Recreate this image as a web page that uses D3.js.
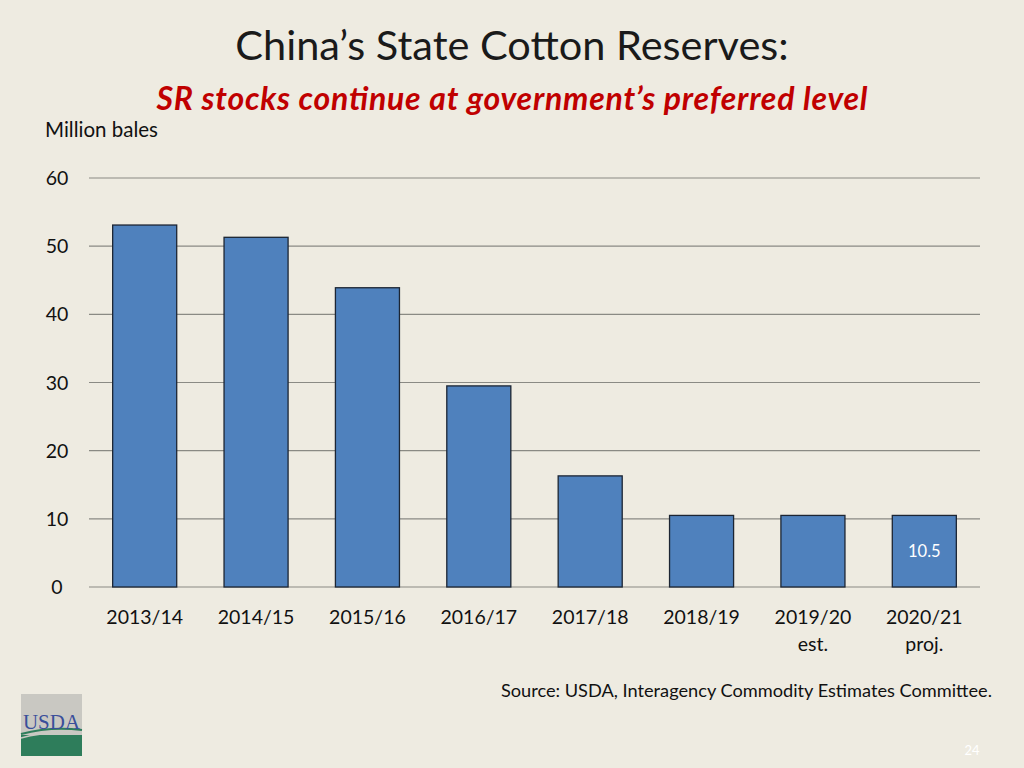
<!DOCTYPE html>
<html><head><meta charset="utf-8">
<script src="https://cdn.jsdelivr.net/npm/d3@7"></script>
<style>body{margin:0;background:#EEEBE1;}svg{display:block;}</style>
</head><body>
<script>
const categories = ["2013/14","2014/15","2015/16","2016/17","2017/18","2018/19","2019/20","2020/21"];
const subLabels = ["","","","","","","est.","proj."];
const values = [53.1, 51.3, 43.9, 29.5, 16.3, 10.5, 10.5, 10.5];
const yTicks = [0,10,20,30,40,50,60];
const labelIndex = 7;

const W=1024,H=768;
const svg=d3.select("body").append("svg").attr("width",W).attr("height",H);
svg.append("rect").attr("width",W).attr("height",H).attr("fill","#EEEBE1");
const font="Lato, 'Open Sans', sans-serif";

svg.append("text").attr("x",512).attr("y",60).attr("text-anchor","middle")
  .attr("font-family",font).attr("font-size",41.5).attr("fill","#1a1a1a").text("China\u2019s State Cotton Reserves:");
svg.append("text").attr("x",512).attr("y",110).attr("text-anchor","middle")
  .attr("font-family",font).attr("font-size",32).attr("font-weight","bold").attr("font-style","italic")
  .attr("fill","#C00000").attr("textLength",711).attr("lengthAdjust","spacing")
  .text("SR stocks continue at government\u2019s preferred level");
svg.append("text").attr("x",45).attr("y",137).attr("font-family",font).attr("font-size",20.5).attr("fill","#111").text("Million bales");

const x=d3.scaleBand().domain(categories).range([89,980]).paddingInner(0.425).paddingOuter(0.2125);
const y=d3.scaleLinear().domain([0,60]).range([587,178]);

const g=svg.append("g");
g.selectAll("line.grid").data(yTicks).join("line").attr("class","grid")
  .attr("x1",89).attr("x2",980).attr("y1",d=>y(d)).attr("y2",d=>y(d))
  .attr("stroke","#8a8a84").attr("stroke-width",1.2);
g.selectAll("text.yt").data(yTicks).join("text").attr("class","yt")
  .attr("x",57).attr("y",d=>y(d)+7).attr("text-anchor","middle")
  .attr("font-family",font).attr("font-size",19.5).attr("fill","#111").text(d=>d);

g.selectAll("rect.bar").data(values).join("rect").attr("class","bar")
  .attr("x",(d,i)=>x(categories[i])).attr("width",x.bandwidth())
  .attr("y",d=>y(d)).attr("height",d=>y(0)-y(d))
  .attr("fill","#4F81BD").attr("stroke","#1c2533").attr("stroke-width",1.3);

g.append("text").attr("x",x(categories[labelIndex])+x.bandwidth()/2).attr("y",y(values[labelIndex])+42)
  .attr("text-anchor","middle").attr("font-family",font).attr("font-size",16.5).attr("fill","#fff")
  .text(values[labelIndex].toFixed(1));

g.selectAll("text.xl").data(categories).join("text").attr("class","xl")
  .attr("x",d=>x(d)+x.bandwidth()/2).attr("y",624).attr("text-anchor","middle")
  .attr("font-family",font).attr("font-size",19.5).attr("fill","#111").text(d=>d);
g.selectAll("text.xl2").data(subLabels).join("text").attr("class","xl2")
  .attr("x",(d,i)=>x(categories[i])+x.bandwidth()/2).attr("y",651).attr("text-anchor","middle")
  .attr("font-family",font).attr("font-size",19.5).attr("fill","#111").text(d=>d);

svg.append("text").attr("x",992).attr("y",697).attr("text-anchor","end")
  .attr("font-family",font).attr("font-size",18.2).attr("fill","#111")
  .text("Source: USDA, Interagency Commodity Estimates Committee.");

svg.append("text").attr("x",972).attr("y",755).attr("text-anchor","middle")
  .attr("font-family",font).attr("font-size",13).attr("fill","#ffffff").text("24");

// USDA logo
const lg=svg.append("g").attr("transform","translate(21,694)");
lg.append("rect").attr("width",61).attr("height",62).attr("fill","#C9C8C2");
lg.append("rect").attr("y",41).attr("width",61).attr("height",21).attr("fill","#2E7D5B");
lg.append("path").attr("d","M0,40 Q30,32 61,36").attr("fill","none").attr("stroke","#2E7D5B").attr("stroke-width",2);
lg.append("path").attr("d","M0,44 Q25,37 61,40").attr("fill","none").attr("stroke","#C9C8C2").attr("stroke-width",1.5);
lg.append("text").attr("x",30.5).attr("y",35).attr("text-anchor","middle").attr("font-family","'Liberation Serif', serif")
  .attr("font-size",22).attr("fill","#3A4F9A").attr("textLength",57).attr("lengthAdjust","spacingAndGlyphs").text("USDA");
</script>
</body></html>
